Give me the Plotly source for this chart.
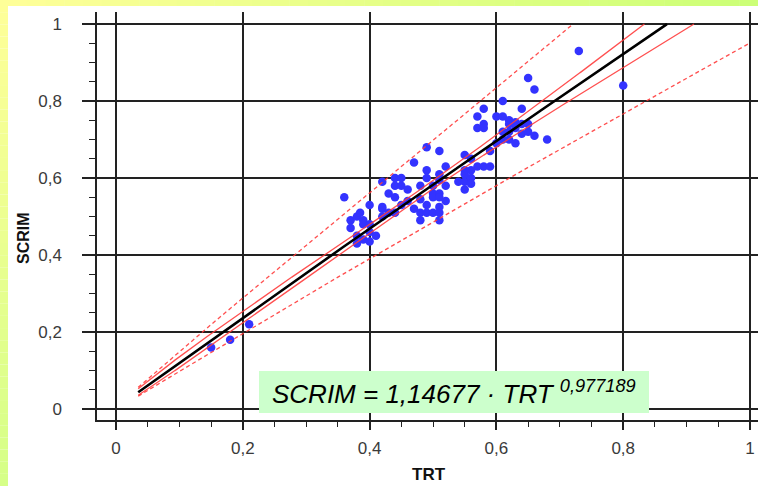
import numpy as np
import plotly.graph_objects as go

# ---- data ----
trt = [0.15, 0.18, 0.21, 0.73, 0.80, 0.36,
       0.37, 0.37, 0.38, 0.38, 0.38, 0.385, 0.39, 0.39, 0.39, 0.40, 0.40, 0.40, 0.41, 0.40,
       0.42, 0.42, 0.42, 0.42, 0.43, 0.43,
       0.44, 0.44, 0.44, 0.44, 0.45, 0.45, 0.45, 0.46, 0.46, 0.47, 0.47,
       0.48, 0.48, 0.48, 0.48, 0.49, 0.49, 0.49, 0.49, 0.49,
       0.50, 0.50, 0.50, 0.50,
       0.51, 0.51, 0.51, 0.51, 0.51, 0.51, 0.51, 0.51,
       0.52, 0.52, 0.52, 0.54,
       0.55, 0.55, 0.55, 0.55, 0.55, 0.56, 0.56, 0.56, 0.56,
       0.57, 0.57, 0.57, 0.58, 0.58, 0.58, 0.58, 0.59, 0.59,
       0.60, 0.60, 0.61, 0.61, 0.61, 0.61, 0.62, 0.62, 0.62, 0.62,
       0.63, 0.63, 0.63, 0.64, 0.64, 0.64, 0.65, 0.65, 0.65, 0.66, 0.66, 0.68]
scrim = [0.16, 0.18, 0.22, 0.93, 0.84, 0.55,
         0.49, 0.47, 0.50, 0.45, 0.43, 0.51, 0.49, 0.48, 0.44, 0.53, 0.48, 0.46, 0.45, 0.435,
         0.59, 0.52, 0.50, 0.525, 0.51, 0.56,
         0.60, 0.58, 0.55, 0.51, 0.60, 0.58, 0.53, 0.57, 0.54, 0.64, 0.52,
         0.58, 0.545, 0.51, 0.49, 0.68, 0.62, 0.60, 0.53, 0.51,
         0.58, 0.56, 0.55, 0.51,
         0.67, 0.61, 0.595, 0.56, 0.55, 0.525, 0.51, 0.49,
         0.63, 0.58, 0.54, 0.59,
         0.66, 0.62, 0.61, 0.59, 0.57, 0.65, 0.62, 0.60, 0.585,
         0.76, 0.73, 0.63, 0.78, 0.74, 0.73, 0.63, 0.67, 0.63,
         0.76, 0.69, 0.80, 0.76, 0.72, 0.70, 0.75, 0.74, 0.72, 0.70,
         0.745, 0.73, 0.69, 0.78, 0.74, 0.715, 0.86, 0.74, 0.72, 0.83, 0.71, 0.70]

coef_a = 1.14677
coef_b = 0.977189
t_crit = 1.98
fit_x_start = 0.035
fit_x_end = 1.0
y_cap = 1.0

x_ticks = [0, 0.2, 0.4, 0.6, 0.8, 1]
y_ticks = [0, 0.2, 0.4, 0.6, 0.8, 1]

# ---- power-law fit bands (log-log regression statistics) ----
lx = np.log(np.array(trt))
ly = np.log(np.array(scrim))
n = len(lx)
res = ly - (np.log(coef_a) + coef_b * lx)
s = np.sqrt((res ** 2).sum() / (n - 2))
mx = lx.mean()
sxx = ((lx - mx) ** 2).sum()

xg = np.linspace(fit_x_start, fit_x_end, 2000)
lg = np.log(xg)
yfit = coef_a * xg ** coef_b
se_c = s * np.sqrt(1.0 / n + (lg - mx) ** 2 / sxx)
se_p = s * np.sqrt(1.0 + 1.0 / n + (lg - mx) ** 2 / sxx)


def cap(y):
    return np.where(y <= y_cap, y, np.nan)


fig = go.Figure()
fig.add_trace(go.Scatter(x=trt, y=scrim, mode="markers",
                         marker=dict(color="#3333ff", size=8.5, line=dict(width=0)),
                         showlegend=False))
dash_style = dict(color="rgba(255,60,60,0.9)", width=1.3, dash="4px,3px")
solid_style = dict(color="rgba(255,60,60,0.9)", width=1.3)
for k, st in [(se_p, dash_style), (-se_p, dash_style), (se_c, solid_style), (-se_c, solid_style)]:
    fig.add_trace(go.Scatter(x=xg, y=cap(yfit * np.exp(t_crit * k)), mode="lines",
                             line=st, showlegend=False, hoverinfo="skip"))
fig.add_trace(go.Scatter(x=xg, y=cap(yfit), mode="lines",
                         line=dict(color="black", width=2.6), showlegend=False))

# ---- background frame (yellow-green gradient) ----
W, H = 758, 486
L, R, T, B = 97, 0, 12, 66
pw, ph = W - L - R, H - T - B


def px2x(px):
    return (px - L) / pw


def py2y(py):
    return (H - B - py) / ph


c0 = np.array([255, 255, 153])
c_r = np.array([204, 255, 119])
c_b = np.array([214, 255, 136])
shapes = []
N = 40
for i in range(N):
    py0, py1 = H * i / N, H * (i + 1) / N
    f = (i + 0.5) / N
    c = (c0 + (c_b - c0) * f).astype(int)
    shapes.append(dict(type="rect", xref="paper", yref="paper", layer="below",
                       x0=px2x(0), x1=px2x(8), y0=py2y(py1), y1=py2y(py0),
                       fillcolor=f"rgb({c[0]},{c[1]},{c[2]})", line=dict(width=0)))
for i in range(N):
    px0, px1 = 8 + (W - 8) * i / N, 8 + (W - 8) * (i + 1) / N
    f = (i + 0.5) / N
    c = (c0 + (c_r - c0) * f).astype(int)
    shapes.append(dict(type="rect", xref="paper", yref="paper", layer="below",
                       x0=px2x(px0), x1=px2x(px1 + 0.5), y0=py2y(6), y1=py2y(0),
                       fillcolor=f"rgb({c[0]},{c[1]},{c[2]})", line=dict(width=0)))

# equation box
shapes.append(dict(type="rect", xref="paper", yref="paper", layer="above",
                   x0=px2x(259), x1=px2x(649), y0=py2y(413), y1=py2y(371),
                   fillcolor="#ccffcc", line=dict(width=0)))

axis_common = dict(showgrid=True, gridcolor="#222", gridwidth=1.5,
                   showline=True, linecolor="#222", linewidth=1.5,
                   ticks="outside", tickcolor="#222", tickwidth=1.5,
                   zeroline=False, tickformat=".1~f",
                   tickfont=dict(family="Arial, Liberation Sans", size=17, color="#3a3a3a"))

fig.update_layout(
    width=W, height=H,
    margin=dict(l=L, r=R, t=T, b=B),
    paper_bgcolor="white", plot_bgcolor="white",
    separators=", ",
    shapes=shapes,
    xaxis=dict(range=[-0.030, 1.0126], tickvals=x_ticks, ticklen=8,
               ticklabelstandoff=4,
               minor=dict(dtick=0.05, tick0=0, ticks="outside", ticklen=5,
                          tickcolor="#222", tickwidth=1.2, showgrid=False),
               **axis_common),
    yaxis=dict(range=[-0.0286, 1.0312], tickvals=y_ticks, ticklen=13,
               ticklabelstandoff=17,
               minor=dict(dtick=0.05, tick0=0, ticks="outside", ticklen=6,
                          tickcolor="#222", tickwidth=1.2, showgrid=False),
               **axis_common),
    annotations=[
        dict(x=px2x(453.5), y=py2y(392), xref="paper", yref="paper",
             xanchor="center", yanchor="middle",
             text="<i>SCRIM = 1,14677 · TRT</i> <sup><i>0,977189</i></sup>",
             showarrow=False,
             font=dict(family="Arial, Liberation Sans", size=26, color="black")),
        dict(x=px2x(23), y=py2y(238), xref="paper", yref="paper", textangle=-90,
             text="<b>SCRIM</b>", showarrow=False, xanchor="center", yanchor="middle",
             font=dict(family="Arial, Liberation Sans", size=16, color="#111")),
        dict(x=px2x(429), y=py2y(474), xref="paper", yref="paper",
             text="<b>TRT</b>", showarrow=False, xanchor="center", yanchor="middle",
             font=dict(family="Arial, Liberation Sans", size=17, color="#111")),
    ],
)

fig.write_html("out.html")
